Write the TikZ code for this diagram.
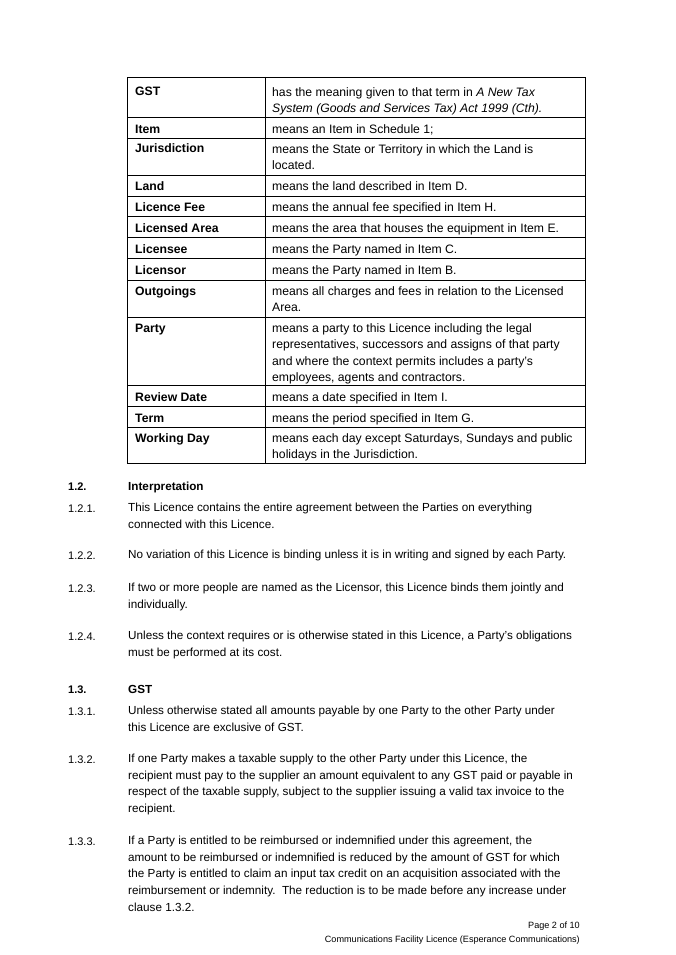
\documentclass[tikz,border=0pt]{standalone}
\usepackage{fontspec}
\setmainfont{Liberation Sans}
\begin{document}
\begin{tikzpicture}[
    x=1pt, y=-1pt,
    txt/.style={anchor=north west, inner sep=0pt, align=left, font=\fontsize{12.2}{16.6}\selectfont},
    term/.style={anchor=base west, inner sep=0pt, font=\fontsize{12.2}{16.6}\selectfont\bfseries},
    body/.style={anchor=north west, inner sep=0pt, align=left, font=\fontsize{11.7}{16.6}\selectfont},
    head/.style={anchor=base west, inner sep=0pt, font=\fontsize{11.7}{16.6}\selectfont\bfseries},
    num/.style={anchor=base west, inner sep=0pt, font=\fontsize{11}{16.6}\selectfont},
    foot/.style={anchor=north east, inner sep=0pt, align=right, font=\fontsize{9.1}{14}\selectfont}
]
\useasboundingbox (0,0) rectangle (675,955);

% Table frame and rules
\draw[line width=0.8pt] (127,77) rectangle (585,463);
\draw[line width=0.8pt] (265,77) -- (265,463);
\foreach \y in {117,138,175,196,216,237,258,280,317,385,406,427}
    \draw[line width=0.8pt] (127,\y) -- (585,\y);

% Terms
\node[term] (tgst) at (135,96) {GST};
\node[term] (titem) at (135,133) {Item};
\node[term] (tjur) at (135,153) {Jurisdiction};
\node[term] (tland) at (135,190) {Land};
\node[term] (tfee) at (135,211) {Licence Fee};
\node[term] (tarea) at (135,232) {Licensed Area};
\node[term] (tlee) at (135,253) {Licensee};
\node[term] (tlor) at (135,274) {Licensor};
\node[term] (tout) at (135,295) {Outgoings};
\node[term] (tparty) at (135,332) {Party};
\node[term] (trev) at (135,401) {Review Date};
\node[term] (tterm) at (135,422) {Term};
\node[term] (twork) at (135,442) {Working Day};

% Definitions
\node[txt] (dgst) at (272,87) {has the meaning given to that term in \textit{A New Tax}\\\textit{System (Goods and Services Tax) Act 1999 (Cth).}};
\node[txt] (ditem) at (272,124) {means an Item in Schedule 1;};
\node[txt] (djur) at (272,144) {means the State or Territory in which the Land is\\located.};
\node[txt] (dland) at (272,181) {means the land described in Item D.};
\node[txt] (dfee) at (272,202) {means the annual fee specified in Item H.};
\node[txt] (darea) at (272,223) {means the area that houses the equipment in Item E.};
\node[txt] (dlee) at (272,244) {means the Party named in Item C.};
\node[txt] (dlor) at (272,265) {means the Party named in Item B.};
\node[txt] (dout) at (272,286) {means all charges and fees in relation to the Licensed\\Area.};
\node[txt] (dparty) at (272,323) {means a party to this Licence including the legal\\representatives, successors and assigns of that party\\and where the context permits includes a party's\\employees, agents and contractors.};
\node[txt] (drev) at (272,392) {means a date specified in Item I.};
\node[txt] (dterm) at (272,413) {means the period specified in Item G.};
\node[txt] (dwork) at (272,433) {means each day except Saturdays, Sundays and public\\holidays in the Jurisdiction.};

% Interpretation
\node[num, font=\fontsize{11}{16.6}\selectfont\bfseries] (n12) at (68,490) {1.2.};
\node[head] (h12) at (128,490) {Interpretation};
\node[num] (n121) at (68,512) {1.2.1.};
\node[body] (p121) at (128,503) {This Licence contains the entire agreement between the Parties on everything\\connected with this Licence.};
\node[num] (n122) at (68,559) {1.2.2.};
\node[body] (p122) at (128,550) {No variation of this Licence is binding unless it is in writing and signed by each Party.};
\node[num] (n123) at (68,592) {1.2.3.};
\node[body] (p123) at (128,583) {If two or more people are named as the Licensor, this Licence binds them jointly and\\individually.};
\node[num] (n124) at (68,640) {1.2.4.};
\node[body] (p124) at (128,631) {Unless the context requires or is otherwise stated in this Licence, a Party's obligations\\must be performed at its cost.};

% GST
\node[num, font=\fontsize{11}{16.6}\selectfont\bfseries] (n13) at (68,693) {1.3.};
\node[head] (h13) at (128,693) {GST};
\node[num] (n131) at (68,715) {1.3.1.};
\node[body] (p131) at (128,706) {Unless otherwise stated all amounts payable by one Party to the other Party under\\this Licence are exclusive of GST.};
\node[num] (n132) at (68,763) {1.3.2.};
\node[body] (p132) at (128,754) {If one Party makes a taxable supply to the other Party under this Licence, the\\recipient must pay to the supplier an amount equivalent to any GST paid or payable in\\respect of the taxable supply, subject to the supplier issuing a valid tax invoice to the\\recipient.};
\node[num] (n133) at (68,845) {1.3.3.};
\node[body] (p133) at (128,836) {If a Party is entitled to be reimbursed or indemnified under this agreement, the\\amount to be reimbursed or indemnified is reduced by the amount of GST for which\\the Party is entitled to claim an input tax credit on an acquisition associated with the\\reimbursement or indemnity.\ \ The reduction is to be made before any increase under\\clause 1.3.2.};

% Footer
\node[foot] (page) at (580,922) {Page 2 of 10\\Communications Facility Licence (Esperance Communications)};
\end{tikzpicture}
\end{document}
